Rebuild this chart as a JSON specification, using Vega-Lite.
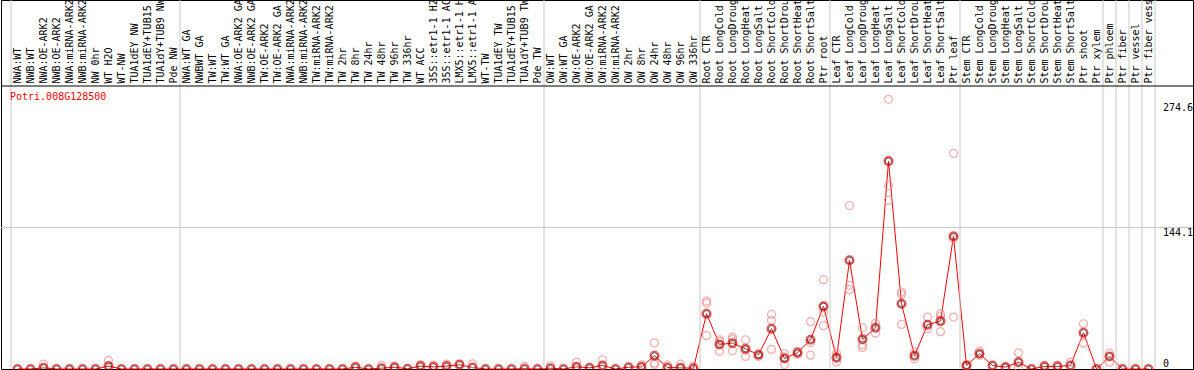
{
  "$schema": "https://vega.github.io/schema/vega-lite/v6.json",
  "width": 1192,
  "height": 369,
  "autosize": {"type": "none"},
  "padding": {"left": 1, "top": 0, "right": 1, "bottom": 1},
  "background": "white",
  "config": {"view": {"stroke": "black", "strokeWidth": 1}},
  "datasets": {
    "means": [
      {"sample": "NWA:WT", "value": 0}, {"sample": "NWB:WT", "value": 0}, {"sample": "NWA:OE-ARK2", "value": 1.2}, {"sample": "NWB:OE-ARK2", "value": 0},
      {"sample": "NWA:miRNA-ARK2", "value": 0}, {"sample": "NWB:miRNA-ARK2", "value": 0}, {"sample": "NW 0hr", "value": 0}, {"sample": "WT H2O", "value": 2.9},
      {"sample": "WT-NW", "value": 0}, {"sample": "TUA1dEY NW", "value": 0}, {"sample": "TUA1dEY+TUB15 NW", "value": 0}, {"sample": "TUA1dY+TUB9 NW", "value": 0},
      {"sample": "Pde NW", "value": 0}, {"sample": "NWA:WT GA", "value": 0}, {"sample": "NWBWT GA", "value": 0}, {"sample": "TW:WT", "value": 0},
      {"sample": "TW:WT GA", "value": 0}, {"sample": "NWA:OE-ARK2 GA", "value": 0}, {"sample": "NWB:OE-ARK2 GA", "value": 0}, {"sample": "TW:OE-ARK2", "value": 0},
      {"sample": "TW:OE-ARK2 GA", "value": 0}, {"sample": "NWA:miRNA-ARK2 GA", "value": 0}, {"sample": "NWB:miRNA-ARK2 GA", "value": 0}, {"sample": "TW:miRNA-ARK2", "value": 0},
      {"sample": "TW:miRNA-ARK2 GA", "value": 0}, {"sample": "TW 2hr", "value": 0}, {"sample": "TW 8hr", "value": 1.8}, {"sample": "TW 24hr", "value": 0},
      {"sample": "TW 48hr", "value": 0.8}, {"sample": "TW 96hr", "value": 1.8}, {"sample": "TW 336hr", "value": 0.3}, {"sample": "WT ACC", "value": 2.9},
      {"sample": "35S::etr1-1 H2O", "value": 2.2}, {"sample": "35S::etr1-1 ACC", "value": 2.9}, {"sample": "LMX5::etr1-1 H2O", "value": 4.3}, {"sample": "LMX5::etr1-1 ACC", "value": 1.5},
      {"sample": "WT-TW", "value": 0}, {"sample": "TUA1dEY TW", "value": 0}, {"sample": "TUA1dEY+TUB15 TW", "value": 0}, {"sample": "TUA1dY+TUB9 TW", "value": 0.3},
      {"sample": "Pde TW", "value": 0}, {"sample": "OW:WT", "value": 0.8}, {"sample": "OW:WT GA", "value": 0}, {"sample": "OW:OE-ARK2", "value": 2.2},
      {"sample": "OW:OE-ARK2 GA", "value": 1.2}, {"sample": "OW:miRNA-ARK2", "value": 3.6}, {"sample": "OW:miRNA-ARK2 GA", "value": 0}, {"sample": "OW 2hr", "value": 1.8},
      {"sample": "OW 8hr", "value": 2.2}, {"sample": "OW 24hr", "value": 13.5}, {"sample": "OW 48hr", "value": 1.5}, {"sample": "OW 96hr", "value": 1.2},
      {"sample": "OW 336hr", "value": 0.8}, {"sample": "Root CTR", "value": 56.3}, {"sample": "Root LongCold", "value": 25}, {"sample": "Root LongDrought", "value": 26.3},
      {"sample": "Root LongHeat", "value": 20.6}, {"sample": "Root LongSalt", "value": 14.5}, {"sample": "Root ShortCold", "value": 41}, {"sample": "Root ShortDrought", "value": 10.7},
      {"sample": "Root ShortHeat", "value": 16.5}, {"sample": "Root ShortSalt", "value": 29.8}, {"sample": "Ptr root", "value": 63.8}, {"sample": "Leaf CTR", "value": 11.6},
      {"sample": "Leaf LongCold", "value": 110.7}, {"sample": "Leaf LongDrought", "value": 30.3}, {"sample": "Leaf LongHeat", "value": 42}, {"sample": "Leaf LongSalt", "value": 211.7},
      {"sample": "Leaf ShortCold", "value": 66.5}, {"sample": "Leaf ShortDrought", "value": 13.5}, {"sample": "Leaf ShortHeat", "value": 45.1}, {"sample": "Leaf ShortSalt", "value": 48.8},
      {"sample": "Ptr leaf", "value": 135.2}, {"sample": "Stem CTR", "value": 3.6}, {"sample": "Stem LongCold", "value": 15.5}, {"sample": "Stem LongDrought", "value": 3.6},
      {"sample": "Stem LongHeat", "value": 1.9}, {"sample": "Stem LongSalt", "value": 7}, {"sample": "Stem ShortCold", "value": 0}, {"sample": "Stem ShortDrought", "value": 2.6},
      {"sample": "Stem ShortHeat", "value": 2.6}, {"sample": "Stem ShortSalt", "value": 3.6}, {"sample": "Ptr shoot", "value": 36.9}, {"sample": "Ptr xylem", "value": 0},
      {"sample": "Ptr phloem", "value": 12.8}, {"sample": "Ptr fiber", "value": 0}, {"sample": "Ptr vessel", "value": 0}, {"sample": "Ptr fiber vessel", "value": 0}
    ],
    "reps": [
      {"sample": "NWA:OE-ARK2", "value": 4.9}, {"sample": "WT H2O", "value": 8.7},
      {"sample": "TW 8hr", "value": 2.9}, {"sample": "TW 48hr", "value": 3.6}, {"sample": "TW 96hr", "value": 2.9},
      {"sample": "WT ACC", "value": 4.6}, {"sample": "35S::etr1-1 H2O", "value": 3.9}, {"sample": "35S::etr1-1 ACC", "value": 4.9},
      {"sample": "LMX5::etr1-1 H2O", "value": 5.3}, {"sample": "LMX5::etr1-1 ACC", "value": 5.3}, {"sample": "TUA1dY+TUB9 TW", "value": 2.6},
      {"sample": "OW:WT", "value": 3.3}, {"sample": "OW:OE-ARK2", "value": 7}, {"sample": "OW:miRNA-ARK2", "value": 9.4},
      {"sample": "OW 8hr", "value": 4.3}, {"sample": "OW 24hr", "value": 26.7}, {"sample": "OW 24hr", "value": 5.9}, {"sample": "OW 24hr", "value": 4.6},
      {"sample": "OW 48hr", "value": 3.9}, {"sample": "OW 96hr", "value": 4.9}, {"sample": "OW 336hr", "value": 2.6},
      {"sample": "Root CTR", "value": 69.2}, {"sample": "Root CTR", "value": 67.1}, {"sample": "Root CTR", "value": 33.9},
      {"sample": "Root LongCold", "value": 29.8}, {"sample": "Root LongCold", "value": 28.1}, {"sample": "Root LongCold", "value": 18.2},
      {"sample": "Root LongDrought", "value": 32.4}, {"sample": "Root LongDrought", "value": 30.1}, {"sample": "Root LongDrought", "value": 18.6},
      {"sample": "Root LongHeat", "value": 29.8}, {"sample": "Root LongHeat", "value": 12.8}, {"sample": "Root LongHeat", "value": 19},
      {"sample": "Root LongSalt", "value": 15.1}, {"sample": "Root LongSalt", "value": 12.8},
      {"sample": "Root ShortCold", "value": 55.6}, {"sample": "Root ShortCold", "value": 49.5}, {"sample": "Root ShortCold", "value": 19.9},
      {"sample": "Root ShortDrought", "value": 15.5}, {"sample": "Root ShortDrought", "value": 4.6}, {"sample": "Root ShortDrought", "value": 12},
      {"sample": "Root ShortHeat", "value": 17.9}, {"sample": "Root ShortHeat", "value": 15.1},
      {"sample": "Root ShortSalt", "value": 48.2}, {"sample": "Root ShortSalt", "value": 26.7}, {"sample": "Root ShortSalt", "value": 14.1},
      {"sample": "Ptr root", "value": 91}, {"sample": "Ptr root", "value": 58}, {"sample": "Ptr root", "value": 44.1},
      {"sample": "Leaf CTR", "value": 16.1}, {"sample": "Leaf CTR", "value": 7},
      {"sample": "Leaf LongCold", "value": 166.5}, {"sample": "Leaf LongCold", "value": 85.2}, {"sample": "Leaf LongCold", "value": 80.8},
      {"sample": "Leaf LongDrought", "value": 42}, {"sample": "Leaf LongDrought", "value": 24.5}, {"sample": "Leaf LongDrought", "value": 22},
      {"sample": "Leaf LongHeat", "value": 46.7}, {"sample": "Leaf LongHeat", "value": 36.5},
      {"sample": "Leaf LongSalt", "value": 274.6}, {"sample": "Leaf LongSalt", "value": 186.5}, {"sample": "Leaf LongSalt", "value": 171.9},
      {"sample": "Leaf ShortCold", "value": 78.4}, {"sample": "Leaf ShortCold", "value": 76}, {"sample": "Leaf ShortCold", "value": 45.4},
      {"sample": "Leaf ShortDrought", "value": 17.1}, {"sample": "Leaf ShortDrought", "value": 10.4},
      {"sample": "Leaf ShortHeat", "value": 52.9}, {"sample": "Leaf ShortHeat", "value": 41},
      {"sample": "Leaf ShortSalt", "value": 56.3}, {"sample": "Leaf ShortSalt", "value": 53.6}, {"sample": "Leaf ShortSalt", "value": 38},
      {"sample": "Ptr leaf", "value": 219.6}, {"sample": "Ptr leaf", "value": 52.9}, {"sample": "Ptr leaf", "value": 133},
      {"sample": "Stem CTR", "value": 3}, {"sample": "Stem CTR", "value": 4.5},
      {"sample": "Stem LongCold", "value": 18.2}, {"sample": "Stem LongCold", "value": 14},
      {"sample": "Stem LongSalt", "value": 16.5}, {"sample": "Stem LongSalt", "value": 2},
      {"sample": "Stem ShortDrought", "value": 3.9}, {"sample": "Stem ShortHeat", "value": 3.9}, {"sample": "Stem ShortSalt", "value": 7},
      {"sample": "Ptr shoot", "value": 46.1}, {"sample": "Ptr shoot", "value": 26.3},
      {"sample": "Ptr phloem", "value": 16.1}, {"sample": "Ptr phloem", "value": 7}
    ],
    "seps": [
      {"sample": "NWA:WT"}, {"sample": "NWA:WT GA"}, {"sample": "OW:WT"}, {"sample": "Root CTR"}, {"sample": "Leaf CTR"},
      {"sample": "Stem CTR"}, {"sample": "Ptr phloem"}, {"sample": "Ptr fiber"}, {"sample": "Ptr vessel"}, {"sample": "Ptr fiber vessel"}
    ],
    "ylabMax": [
      {"sample": "Ptr fiber vessel", "v": 274.6, "t": "274.6"}
    ],
    "ylabMid": [
      {"sample": "Ptr fiber vessel", "v": 144.1, "t": "144.1"}
    ],
    "ylabZero": [
      {"sample": "Ptr fiber vessel", "v": 0, "t": "0"}
    ]
  },
  "resolve": {"scale": {"x": "shared", "y": "shared"}},
  "layer": [
    {
      "data": {"values": [{"label": "grid"}]},
      "mark": {"type": "rule", "color": "#c8c8c8", "strokeWidth": 1},
      "encoding": {"y": {"datum": 144.1, "type": "quantitative", "scale": {"domain": [0, 375.8], "nice": false, "zero": false}, "axis": null}}
    },
    {
      "data": {"name": "means"},
      "mark": {"type": "line", "color": "#ff0000", "strokeWidth": 1},
      "encoding": {
        "x": {"field": "sample", "type": "nominal", "axis": null,
          "scale": {"type": "band", "paddingInner": 0, "paddingOuter": 0, "range": [10, 1154],
            "domain": ["NWA:WT","NWB:WT","NWA:OE-ARK2","NWB:OE-ARK2","NWA:miRNA-ARK2","NWB:miRNA-ARK2","NW 0hr","WT H2O","WT-NW","TUA1dEY NW","TUA1dEY+TUB15 NW","TUA1dY+TUB9 NW","Pde NW","NWA:WT GA","NWBWT GA","TW:WT","TW:WT GA","NWA:OE-ARK2 GA","NWB:OE-ARK2 GA","TW:OE-ARK2","TW:OE-ARK2 GA","NWA:miRNA-ARK2 GA","NWB:miRNA-ARK2 GA","TW:miRNA-ARK2","TW:miRNA-ARK2 GA","TW 2hr","TW 8hr","TW 24hr","TW 48hr","TW 96hr","TW 336hr","WT ACC","35S::etr1-1 H2O","35S::etr1-1 ACC","LMX5::etr1-1 H2O","LMX5::etr1-1 ACC","WT-TW","TUA1dEY TW","TUA1dEY+TUB15 TW","TUA1dY+TUB9 TW","Pde TW","OW:WT","OW:WT GA","OW:OE-ARK2","OW:OE-ARK2 GA","OW:miRNA-ARK2","OW:miRNA-ARK2 GA","OW 2hr","OW 8hr","OW 24hr","OW 48hr","OW 96hr","OW 336hr","Root CTR","Root LongCold","Root LongDrought","Root LongHeat","Root LongSalt","Root ShortCold","Root ShortDrought","Root ShortHeat","Root ShortSalt","Ptr root","Leaf CTR","Leaf LongCold","Leaf LongDrought","Leaf LongHeat","Leaf LongSalt","Leaf ShortCold","Leaf ShortDrought","Leaf ShortHeat","Leaf ShortSalt","Ptr leaf","Stem CTR","Stem LongCold","Stem LongDrought","Stem LongHeat","Stem LongSalt","Stem ShortCold","Stem ShortDrought","Stem ShortHeat","Stem ShortSalt","Ptr shoot","Ptr xylem","Ptr phloem","Ptr fiber","Ptr vessel","Ptr fiber vessel"]}},
        "y": {"field": "value", "type": "quantitative", "axis": null},
        "order": {"value": null}
      }
    },
    {
      "data": {"name": "seps"},
      "mark": {"type": "rule", "color": "#c8c8c8", "strokeWidth": 1},
      "encoding": {"x": {"field": "sample", "type": "nominal", "bandPosition": 0, "axis": null, "scale": {"type": "band"}}}
    },
    {
      "data": {"values": [{"sample": "Ptr fiber vessel"}]},
      "mark": {"type": "rule", "color": "#c8c8c8", "strokeWidth": 1},
      "encoding": {"x": {"field": "sample", "type": "nominal", "bandPosition": 1, "axis": null, "scale": {"type": "band"}}}
    },
    {
      "data": {"values": [{"label": "header"}]},
      "mark": {"type": "rule", "color": "black", "strokeWidth": 1},
      "encoding": {"y": {"datum": 288.2, "type": "quantitative", "axis": null}}
    },
    {
      "data": {"name": "means"},
      "mark": {"type": "text", "angle": 270, "align": "left", "baseline": "middle", "font": "DejaVu Sans Mono", "fontSize": 10, "color": "black"},
      "encoding": {
        "x": {"field": "sample", "type": "nominal", "axis": null, "scale": {"type": "band"}},
        "y": {"datum": 290.7, "type": "quantitative", "axis": null},
        "text": {"field": "sample"}
      }
    },
    {
      "data": {"values": [{"sample": "NWA:WT", "gene": "Potri.008G128500"}]},
      "mark": {"type": "text", "align": "left", "baseline": "middle", "font": "DejaVu Sans Mono", "fontSize": 10, "color": "#ff0000", "dx": -1},
      "encoding": {
        "x": {"field": "sample", "type": "nominal", "bandPosition": 0, "axis": null, "scale": {"type": "band"}},
        "y": {"datum": 277, "type": "quantitative", "axis": null},
        "text": {"field": "gene"}
      }
    },
    {
      "data": {"name": "ylabMax"},
      "mark": {"type": "text", "align": "left", "baseline": "top", "font": "DejaVu Sans Mono", "fontSize": 10, "color": "black", "dx": 8, "dy": 4},
      "encoding": {
        "x": {"field": "sample", "type": "nominal", "bandPosition": 1, "axis": null, "scale": {"type": "band"}},
        "y": {"field": "v", "type": "quantitative", "axis": null},
        "text": {"field": "t"}
      }
    },
    {
      "data": {"name": "ylabMid"},
      "mark": {"type": "text", "align": "left", "baseline": "top", "font": "DejaVu Sans Mono", "fontSize": 10, "color": "black", "dx": 8},
      "encoding": {
        "x": {"field": "sample", "type": "nominal", "bandPosition": 1, "axis": null, "scale": {"type": "band"}},
        "y": {"field": "v", "type": "quantitative", "axis": null},
        "text": {"field": "t"}
      }
    },
    {
      "data": {"name": "ylabZero"},
      "mark": {"type": "text", "align": "left", "baseline": "bottom", "font": "DejaVu Sans Mono", "fontSize": 10, "color": "black", "dx": 8},
      "encoding": {
        "x": {"field": "sample", "type": "nominal", "bandPosition": 1, "axis": null, "scale": {"type": "band"}},
        "y": {"field": "v", "type": "quantitative", "axis": null},
        "text": {"field": "t"}
      }
    },
    {
      "data": {"name": "reps"},
      "mark": {"type": "point", "shape": "circle", "filled": false, "size": 64, "stroke": "#ee8c8c", "strokeWidth": 1.2},
      "encoding": {
        "x": {"field": "sample", "type": "nominal", "axis": null, "scale": {"type": "band"}},
        "y": {"field": "value", "type": "quantitative", "axis": null}
      }
    },
    {
      "data": {"name": "means"},
      "mark": {"type": "point", "shape": "circle", "filled": false, "size": 72, "stroke": "#ff0000", "strokeWidth": 1.6},
      "encoding": {
        "x": {"field": "sample", "type": "nominal", "axis": null, "scale": {"type": "band"}},
        "y": {"field": "value", "type": "quantitative", "axis": null}
      }
    },
    {
      "data": {"name": "means"},
      "mark": {"type": "point", "shape": "circle", "filled": false, "size": 40, "stroke": "#000000", "strokeWidth": 0.8, "opacity": 0.8},
      "encoding": {
        "x": {"field": "sample", "type": "nominal", "axis": null, "scale": {"type": "band"}},
        "y": {"field": "value", "type": "quantitative", "axis": null}
      }
    }
  ]
}
